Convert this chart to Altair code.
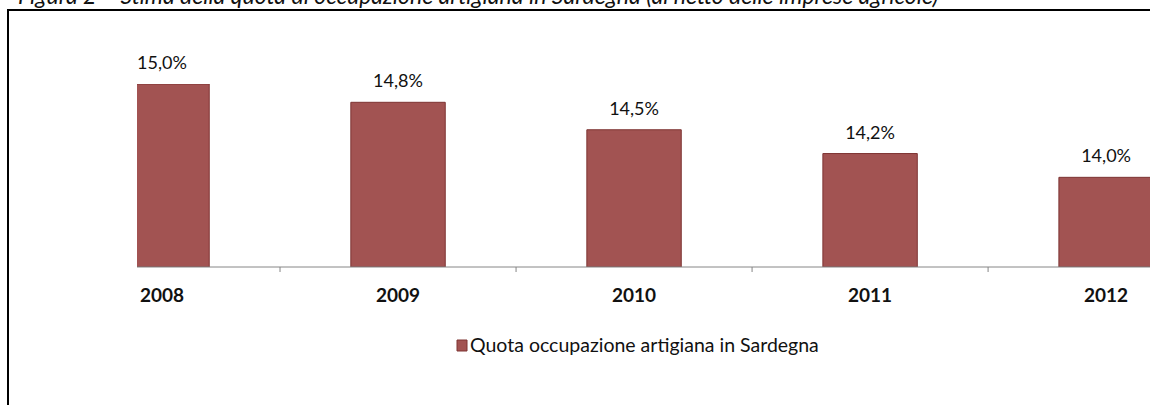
import altair as alt
import pandas as pd

# ---- data ----
years = [2008, 2009, 2010, 2011, 2012]
quota = [15.0, 14.8, 14.5, 14.24, 13.98]
series_name = ["Quota occupazione artigiana in Sardegna"]
title_text = ["Figura 2 \u2013 Stima della quota di occupazione artigiana in Sardegna (al netto delle imprese agricole)"]
boundaries = [(a + b) / 2 for a, b in zip(years, years[1:])]

FONT = "Lato"
BAR_FILL = "#A25352"
BAR_STROKE = "#7E3433"
AXIS_COL = "#868686"

W, H = 1013, 183

df = pd.DataFrame({"anno": years, "quota": quota})
xs = alt.Scale(domain=[2007.894, 2012.186], nice=False, zero=False)
ys = alt.Scale(domain=[13, 15], nice=False, zero=False)

base = alt.Chart(df).transform_calculate(
    x0="datum.anno - 0.2",
    x1="datum.anno + 0.2",
    lab="replace(format(datum.quota, '.1f'), '.', ',') + '%'",
)

bars = base.mark_rect(clip=True, fill=BAR_FILL, stroke=BAR_STROKE, strokeWidth=1).encode(
    x=alt.X("x0:Q", scale=xs, axis=None),
    x2="x1:Q",
    y=alt.Y("quota:Q", scale=ys, axis=None),
    y2=alt.datum(13),
)

value_labels = base.mark_text(
    font=FONT, fontSize=18, color="#111111", baseline="alphabetic", dy=-15
).encode(
    x=alt.X("anno:Q", scale=xs, axis=None),
    y=alt.Y("quota:Q", scale=ys, axis=None),
    text="lab:N",
)

year_labels = base.mark_text(
    font=FONT, fontSize=19, fontWeight="bold", color="#111111", baseline="alphabetic"
).encode(
    x=alt.X("anno:Q", scale=xs, axis=None),
    y=alt.value(218),
    text="anno:N",
)

baseline = alt.Chart(pd.DataFrame({"k": [0]})).mark_rule(color=AXIS_COL, strokeWidth=1).encode(
    x=alt.value(0), x2=alt.value(W + 20), y=alt.value(H)
)

ticks = alt.Chart(pd.DataFrame({"b": boundaries})).mark_rule(color=AXIS_COL, strokeWidth=1).encode(
    x=alt.X("b:Q", scale=xs, axis=None), y=alt.value(H), y2=alt.value(H + 5)
)

one = pd.DataFrame({"k": [0]})
box_left = alt.Chart(one).mark_rule(color="black", strokeWidth=2).encode(
    x=alt.value(-129), y=alt.value(-75), y2=alt.value(340)
)
box_top = alt.Chart(one).mark_rule(color="black", strokeWidth=2).encode(
    x=alt.value(-130), x2=alt.value(W + 20), y=alt.value(-74)
)

title = alt.Chart(pd.DataFrame({"t": title_text})).mark_text(
    font=FONT, fontSize=23, fontStyle="italic", align="left", baseline="alphabetic", color="#111111"
).encode(x=alt.value(-119), y=alt.value(-80), text="t:N")

leg_df = pd.DataFrame({"s": series_name})
leg_sq = alt.Chart(leg_df).mark_rect(fill=BAR_FILL, stroke=BAR_STROKE, strokeWidth=1).encode(
    x=alt.value(320), x2=alt.value(330), y=alt.value(256), y2=alt.value(267)
)
leg_txt = alt.Chart(leg_df).mark_text(
    font=FONT, fontSize=19.5, align="left", baseline="middle", color="#111111"
).encode(x=alt.value(333), y=alt.value(262), text="s:N")

chart = alt.layer(
    box_left, box_top, title, bars, baseline, ticks, value_labels, year_labels, leg_sq, leg_txt
).properties(
    width=W,
    height=H,
    padding={"left": 137, "top": 84, "right": 0, "bottom": 138},
    autosize=alt.AutoSizeParams(type="none"),
    background="white",
).configure_view(stroke=None)

chart.save("out.html", embed_options={"renderer": "svg", "actions": False})
